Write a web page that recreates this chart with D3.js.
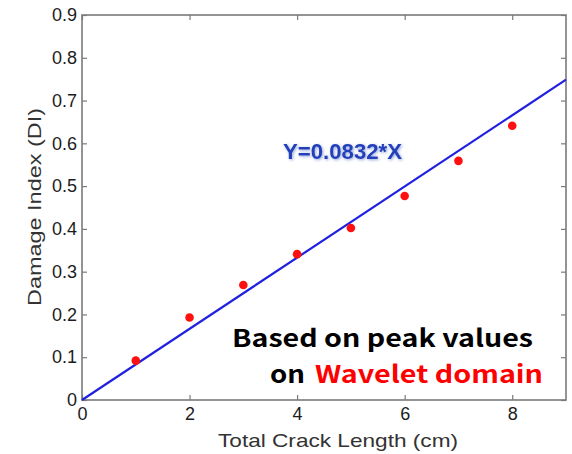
<!DOCTYPE html>
<html>
<head>
<meta charset="utf-8">
<script src="https://cdn.jsdelivr.net/npm/d3@7/dist/d3.min.js"></script>
<style>
  html, body { margin: 0; padding: 0; background: #fff; }
  svg { display: block; }
</style>
</head>
<body>
<svg id="chart" width="572" height="454"></svg>
<script>
// Crack length (cm) vs. damage index
const crackLength = [1, 2, 3, 4, 5, 6, 7, 8];
const damageIndex = [0.092, 0.193, 0.269, 0.341, 0.402, 0.477, 0.559, 0.641];
const slope = 0.0832;
const xTicks = [0, 2, 4, 6, 8];
const yTicks = [0, 0.1, 0.2, 0.3, 0.4, 0.5, 0.6, 0.7, 0.8, 0.9];
const xDomain = [0, 9];
const yDomain = [0, 0.9];

const svg = d3.select("#chart");
const plotLeft = 82, plotRight = 566, plotTop = 15, plotBottom = 400;

const x = d3.scaleLinear().domain(xDomain).range([plotLeft, plotRight]);
const y = d3.scaleLinear().domain(yDomain).range([plotBottom, plotTop]);

const axisColor = "#7a7a7a";
const tickFont = "'Liberation Sans', Arial, sans-serif";

const defs = svg.append("defs");
const glow = defs.append("filter").attr("id", "glow")
  .attr("x", "-20%").attr("y", "-40%").attr("width", "140%").attr("height", "180%");
glow.append("feGaussianBlur").attr("in", "SourceAlpha").attr("stdDeviation", 1.6).attr("result", "b");
glow.append("feOffset").attr("in", "b").attr("dx", 0.5).attr("dy", 1).attr("result", "o");
glow.append("feFlood").attr("flood-color", "#6f86c9").attr("flood-opacity", 0.75);
glow.append("feComposite").attr("in2", "o").attr("operator", "in").attr("result", "s");
const merge = glow.append("feMerge");
merge.append("feMergeNode").attr("in", "s");
merge.append("feMergeNode").attr("in", "SourceGraphic");

// Axes (ticks pointing inward on all four sides)
function styleAxis(g) {
  g.selectAll(".domain").remove();
  g.selectAll(".tick line").attr("stroke", axisColor).attr("stroke-width", 1.2);
  g.selectAll(".tick text")
    .attr("fill", "#1c1c1c")
    .attr("font-family", tickFont)
    .attr("font-size", 18);
}

svg.append("g")
  .attr("transform", `translate(0,${plotBottom})`)
  .call(d3.axisBottom(x).tickValues(xTicks).tickFormat(d3.format("d")).tickSizeInner(-5).tickPadding(7))
  .call(styleAxis);

svg.append("g")
  .attr("transform", `translate(0,${plotTop})`)
  .call(d3.axisTop(x).tickValues(xTicks).tickFormat("").tickSizeInner(-5))
  .call(styleAxis);

svg.append("g")
  .attr("transform", `translate(${plotLeft},0)`)
  .call(d3.axisLeft(y).tickValues(yTicks).tickFormat(d => d === 0 ? "0" : d3.format(".1f")(d)).tickSizeInner(-5).tickPadding(5))
  .call(styleAxis);

svg.append("g")
  .attr("transform", `translate(${plotRight},0)`)
  .call(d3.axisRight(y).tickValues(yTicks).tickFormat("").tickSizeInner(-5))
  .call(styleAxis);

// Frame
svg.append("rect")
  .attr("x", plotLeft).attr("y", plotTop)
  .attr("width", plotRight - plotLeft).attr("height", plotBottom - plotTop)
  .attr("fill", "none").attr("stroke", axisColor).attr("stroke-width", 1.6);

// Fitted line Y = slope * X
const line = d3.line().x(d => x(d)).y(d => y(slope * d));
svg.append("path")
  .datum(xDomain)
  .attr("d", line)
  .attr("fill", "none")
  .attr("stroke", "#2020e0")
  .attr("stroke-width", 2.2);

// Measured points
svg.append("g").selectAll("circle")
  .data(crackLength.map((c, i) => [c, damageIndex[i]]))
  .join("circle")
  .attr("cx", d => x(d[0]))
  .attr("cy", d => y(d[1]))
  .attr("r", 4.3)
  .attr("fill", "#ff1010");

// Axis titles
svg.append("text")
  .attr("x", 338).attr("y", 447)
  .attr("text-anchor", "middle")
  .attr("font-family", tickFont)
  .attr("font-size", 19)
  .attr("fill", "#333")
  .attr("textLength", 240).attr("lengthAdjust", "spacingAndGlyphs")
  .text("Total Crack Length (cm)");

svg.append("text")
  .attr("transform", "translate(41,207) rotate(-90)")
  .attr("text-anchor", "middle")
  .attr("font-family", tickFont)
  .attr("font-size", 18)
  .attr("fill", "#333")
  .attr("textLength", 198).attr("lengthAdjust", "spacingAndGlyphs")
  .text("Damage Index (DI)");

// Equation label
svg.append("text")
  .attr("x", 283).attr("y", 159)
  .attr("font-family", tickFont)
  .attr("font-weight", "bold")
  .attr("font-size", 22)
  .attr("fill", "#2241bb")
  .attr("filter", "url(#glow)")
  .attr("textLength", 119).attr("lengthAdjust", "spacingAndGlyphs")
  .text(`Y=${slope}*X`);

// Annotation
const noteFont = "'Noto Sans CJK KR', 'Open Sans', sans-serif";
svg.append("text")
  .attr("x", 232).attr("y", 347)
  .attr("font-family", noteFont)
  .attr("font-weight", "bold")
  .attr("font-size", 24)
  .attr("fill", "#000")
  .attr("textLength", 301).attr("lengthAdjust", "spacingAndGlyphs")
  .text("Based on peak values");

const note2 = svg.append("text")
  .attr("y", 383)
  .attr("font-family", noteFont)
  .attr("font-weight", "bold")
  .attr("font-size", 24);
note2.append("tspan").attr("x", 270).attr("fill", "#000")
  .attr("textLength", 35).attr("lengthAdjust", "spacingAndGlyphs").text("on");
note2.append("tspan").attr("x", 315).attr("fill", "#ff0000")
  .attr("textLength", 228).attr("lengthAdjust", "spacingAndGlyphs").text("Wavelet domain");
</script>
</body>
</html>
